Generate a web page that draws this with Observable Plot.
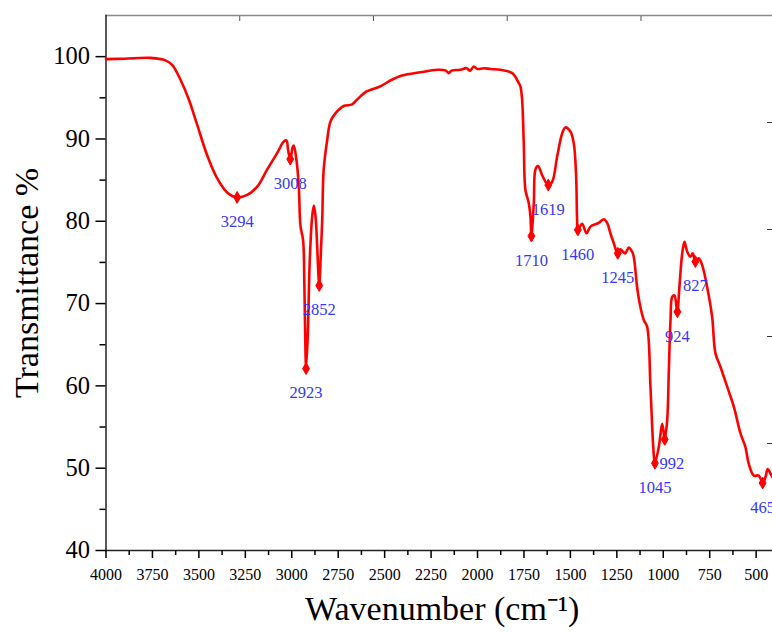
<!DOCTYPE html>
<html>
<head>
<meta charset="utf-8">
<script src="https://cdn.jsdelivr.net/npm/d3@7"></script>
<script src="https://cdn.jsdelivr.net/npm/@observablehq/plot@0.6"></script>
<style>
  html, body { margin: 0; padding: 0; background: #fff; overflow: hidden; }
  #chart { width: 772px; height: 633px; }
  #chart svg text { font-family: 'Liberation Serif', 'Times New Roman', serif; }
</style>
</head>
<body>
<div id="chart"></div>
<script>
// Spectrum trace: wavenumber (cm-1) and transmittance (%)
const wavenumbers = [4000, 3900, 3760, 3680, 3644, 3599, 3554, 3509, 3455, 3401, 3348, 3294, 3240, 3186, 3132, 3078, 3043, 3028, 3020, 3008, 2995, 2989, 2975, 2962, 2953, 2939, 2932, 2926, 2923, 2914, 2903, 2890, 2881, 2872, 2863, 2856, 2852, 2842, 2836, 2828, 2809, 2792, 2765, 2720, 2675, 2648, 2594, 2522, 2469, 2406, 2307, 2217, 2170, 2155, 2140, 2092, 2060, 2040, 2020, 2000, 1966, 1930, 1876, 1813, 1778, 1769, 1760, 1751, 1742, 1724, 1715, 1710, 1697, 1688, 1674, 1652, 1619, 1598, 1571, 1544, 1527, 1500, 1482, 1469, 1464, 1460, 1437, 1413, 1392, 1347, 1320, 1302, 1284, 1266, 1245, 1232, 1221, 1205, 1186, 1168, 1159, 1141, 1127, 1105, 1087, 1069, 1054, 1045, 1024, 1006, 997, 992, 979, 970, 961, 952, 940, 929, 924, 913, 898, 886, 871, 854, 841, 827, 809, 791, 764, 737, 719, 692, 656, 620, 584, 558, 540, 513, 486, 465, 450, 438, 423, 412];
const transmittance = [99.7, 99.75, 99.85, 99.55, 99.0, 97.2, 94.8, 91.7, 88.0, 85.2, 83.5, 82.9, 83.2, 84.2, 86.3, 88.3, 89.7, 89.8, 88.7, 87.55, 89.0, 89.2, 87.5, 84.2, 79.4, 77.7, 72.1, 63.9, 62.1, 66.0, 75.3, 80.6, 81.9, 80.6, 76.9, 73.3, 72.2, 76.9, 80.2, 86.3, 89.9, 92.1, 93.1, 94.0, 94.2, 94.8, 95.8, 96.4, 97.1, 97.7, 98.1, 98.4, 98.3, 98.0, 98.3, 98.4, 98.6, 98.3, 98.8, 98.5, 98.6, 98.5, 98.4, 98.0, 96.8, 96.4, 94.8, 89.5, 83.8, 82.2, 80.6, 78.2, 82.2, 86.3, 86.7, 85.6, 84.4, 84.8, 87.9, 90.7, 91.4, 90.9, 89.5, 85.4, 80.2, 78.95, 79.7, 78.55, 79.35, 79.8, 80.25, 79.8, 78.5, 77.3, 76.1, 76.6, 76.4, 76.1, 76.8, 76.3, 75.7, 72.05, 70.0, 68.0, 67.2, 59.9, 52.6, 50.6, 52.6, 55.4, 54.2, 53.5, 55.8, 61.9, 68.0, 70.8, 71.0, 69.6, 69.0, 72.05, 76.1, 77.5, 76.3, 75.7, 76.1, 75.1, 75.5, 74.7, 72.05, 68.4, 63.95, 62.3, 59.9, 57.45, 54.2, 52.6, 50.55, 49.1, 49.1, 48.2, 48.9, 49.9, 49.35, 48.9];

// Labelled peaks
const peakWavenumbers = [3294, 3008, 2923, 2852, 1710, 1619, 1460, 1245, 1045, 992, 924, 827, 465];
const peakTransmittance = [82.9, 87.55, 62.1, 72.2, 78.2, 84.4, 78.95, 76.1, 50.6, 53.5, 69.0, 75.1, 48.2];

// Ticks
const xMajorTicks = [4000, 3750, 3500, 3250, 3000, 2750, 2500, 2250, 2000, 1750, 1500, 1250, 1000, 750, 500];
const xMinorTicks = [3875, 3625, 3375, 3125, 2875, 2625, 2375, 2125, 1875, 1625, 1375, 1125, 875, 625];
const yMajorTicks = [40, 50, 60, 70, 80, 90, 100];
const yMinorTicks = [45, 55, 65, 75, 85, 95];
const topTicks = [3280, 2560, 1840, 1120];
const rightTicks = [53, 66, 79, 92];

const xTitle = "Wavenumber (cm\u207B\u00B9)";
const yTitle = "Transmittance %";

const spectrum = wavenumbers.map((w, i) => ({w, t: transmittance[i]}));
const peaks = peakWavenumbers.map((w, i) => ({w, t: peakTransmittance[i], label: String(w)}));

const red = "#ff0000";
const blue = "#3636ff";
const serif = "'Liberation Serif', 'Times New Roman', serif";

const chart = Plot.plot({
  width: 772,
  height: 633,
  marginLeft: 105.5,
  marginRight: 0,
  marginTop: 15,
  marginBottom: 83,
  style: {fontFamily: serif, background: "#fff", color: "#000", overflow: "visible"},
  x: {domain: [4000, 412]},
  y: {domain: [40, 105]},
  marks: [
    Plot.frame({anchor: "top", stroke: "#8a8a8a", strokeWidth: 1.5}),
    Plot.axisX({anchor: "top", ticks: topTicks, tickSize: -5, tickFormat: () => "", label: null, stroke: "#555"}),
    Plot.axisY({anchor: "right", ticks: rightTicks, tickSize: -6, tickFormat: () => "", label: null, stroke: "#333"}),
    Plot.frame({anchor: "left", stroke: "#222", strokeWidth: 1.5}),
    Plot.frame({anchor: "bottom", stroke: "#222", strokeWidth: 1.5}),
    Plot.axisX({ticks: xMajorTicks, tickSize: 8, tickPadding: 10, strokeWidth: 1.5, fontSize: 16, fontFamily: serif, fontVariant: "normal", tickFormat: d3.format("d"), label: null}),
    Plot.axisX({ticks: xMinorTicks, tickSize: 5, strokeWidth: 1.5, tickFormat: () => "", label: null}),
    Plot.axisY({ticks: yMajorTicks, tickSize: 10, tickPadding: 6, strokeWidth: 1.5, fontSize: 24.5, fontFamily: serif, fontVariant: "normal", tickFormat: d3.format("d"), label: null}),
    Plot.axisY({ticks: yMinorTicks, tickSize: 6, strokeWidth: 1.5, tickFormat: () => "", label: null}),
    Plot.line(spectrum, {x: "w", y: "t", stroke: red, strokeWidth: 2.6, curve: "catmull-rom"}),
    Plot.dot(peaks, {x: "w", y: "t", symbol: "diamond", fill: red, stroke: red, strokeWidth: 1, r: 3.6}),
    Plot.text(peaks.filter(d => d.w !== 992), {x: "w", y: "t", text: "label", dy: 24.5, fill: blue, fontSize: 16.5, fontFamily: serif}),
    Plot.text(peaks.filter(d => d.w === 992), {x: "w", y: "t", text: "label", dy: 24, dx: 7, fill: blue, fontSize: 16.5, fontFamily: serif}),
    Plot.text([xTitle], {frameAnchor: "bottom", textAnchor: "middle", lineAnchor: "middle", dy: 59, dx: 3, fontSize: 34, fontFamily: serif, fill: "#000"}),
    Plot.text([yTitle], {frameAnchor: "left", textAnchor: "middle", lineAnchor: "middle", dx: -79, rotate: -90, fontSize: 34, fontFamily: serif, fill: "#000"})
  ]
});

document.getElementById("chart").appendChild(chart);
</script>
</body>
</html>
